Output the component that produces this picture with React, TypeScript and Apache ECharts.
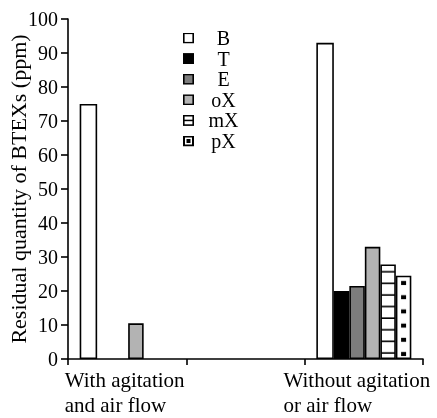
import React, { useEffect, useRef } from 'react';
import * as echarts from 'echarts';

const categories = ['With agitation\nand air flow', '', 'Without agitation\nor air flow'];
const seriesNames = ['B', 'T', 'E', 'oX', 'mX', 'pX'];
const valuesB = [75, null, 93];
const valuesT = [null, null, 20];
const valuesE = [null, null, 21.5];
const valuesOX = [10.5, null, 33];
const valuesMX = [null, null, 27.8];
const valuesPX = [null, null, 24.5];
const yMin = 0;
const yMax = 100;
const yInterval = 10;

const FONT = "Liberation Serif";
const barWidths = [17.5, 15.5, 15.5, 15.5, 15.5, 15.5];

const svgUrl = (w: number, h: number, body: string) =>
  'data:image/svg+xml;utf8,' +
  encodeURIComponent(
    `<svg xmlns="http://www.w3.org/2000/svg" width="${w}" height="${h}" viewBox="0 0 ${w} ${h}">${body}</svg>`
  );

const iconBox = (fill: string) =>
  `<rect x="0.8" y="0.8" width="9.4" height="9.4" fill="${fill}" stroke="#000" stroke-width="1.6"/>`;

const legendIcons: Record<string, string> = {
  B: svgUrl(11, 11, iconBox('#ffffff')),
  T: svgUrl(11, 11, iconBox('#000000')),
  E: svgUrl(11, 11, iconBox('#7d7d7d')),
  oX: svgUrl(11, 11, iconBox('#b3b3b3')),
  mX: svgUrl(11, 11, iconBox('#ffffff') + '<rect x="0" y="4.8" width="11" height="1.5" fill="#000"/>'),
  pX: svgUrl(
    11,
    11,
    `<rect x="1" y="1" width="9" height="9" fill="#fff" stroke="#000" stroke-width="2"/><rect x="3.5" y="3.5" width="4" height="4" fill="#000"/>`
  ),
};

const mod = (a: number, m: number) => ((a % m) + m) % m;

export default function App() {
  const ref = useRef<HTMLDivElement>(null);
  useEffect(() => {
    if (!ref.current) return;
    const chart = echarts.init(ref.current, null, { renderer: 'svg' });
    const border = { borderColor: '#000', borderWidth: 1.6 };
    const dataSets = [valuesB, valuesT, valuesE, valuesOX, valuesMX, valuesPX];
    const fills = ['#ffffff', '#000000', '#7d7d7d', '#b3b3b3', '#ffffff', '#ffffff'];
    const makeSeries = (mxColor: any, pxColor: any) =>
      seriesNames.map((name, i) => ({
        name,
        type: 'bar',
        data: dataSets[i],
        barWidth: barWidths[i],
        barGap: '0%',
        itemStyle: {
          ...border,
          color: i === 4 ? mxColor : i === 5 ? pxColor : fills[i],
        },
      }));

    chart.setOption({
      animation: false,
      textStyle: { fontFamily: FONT, color: '#000' },
      grid: { left: 68, right: 14, top: 19, bottom: 59, containLabel: false, outerBoundsMode: 'none' },
      legend: {
        orient: 'vertical',
        left: 183,
        top: 28,
        padding: 0,
        itemGap: 0.6,
        itemWidth: 11,
        itemHeight: 11,
        selectedMode: false,
        data: seriesNames.map((n) => ({ name: n, icon: 'image://' + legendIcons[n] })),
        formatter: (n: string) => `{n|${n}}`,
        textStyle: {
          fontFamily: FONT,
          rich: {
            n: { width: 49, align: 'center', fontSize: 20, lineHeight: 20.6, fontFamily: FONT, color: '#000' },
          },
        },
      },
      xAxis: {
        type: 'category',
        data: categories,
        boundaryGap: true,
        axisLine: { lineStyle: { color: '#000', width: 1.6 } },
        axisTick: { show: true, length: 6, alignWithLabel: false, lineStyle: { color: '#000', width: 1.6 } },
        axisLabel: {
          interval: 0,
          margin: 8,
          fontFamily: FONT,
          formatter: (v: string, idx: number) => {
            if (!v) return '';
            const s = idx === 0 ? 'a' : 'b';
            return v.split('\n').map((l) => `{${s}|${l}}`).join('\n');
          },
          rich: {
            a: { align: 'left', fontSize: 21, lineHeight: 25, fontFamily: FONT, color: '#000', padding: [0, 5, 0, 0] },
            b: { align: 'left', fontSize: 21, lineHeight: 25, fontFamily: FONT, color: '#000', padding: [0, 14, 0, 0] },
          },
        },
      },
      yAxis: {
        type: 'value',
        min: yMin,
        max: yMax,
        interval: yInterval,
        name: 'Residual quantity of BTEXs (ppm)',
        nameLocation: 'middle',
        nameRotate: 90,
        nameGap: 39,
        nameMoveOverlap: false,
        nameTextStyle: { fontSize: 22, fontFamily: FONT, color: '#000' },
        axisLine: { show: true, lineStyle: { color: '#000', width: 1.6 } },
        axisTick: { show: true, length: 7, lineStyle: { color: '#000', width: 1.6 } },
        splitLine: { show: false },
        axisLabel: { fontSize: 20, margin: 10, fontFamily: FONT, color: '#000' },
      },
      series: makeSeries('#fff', '#fff'),
    });

    // align hatch/dot tiles to the bars (pattern tiles are anchored at the page origin)
    const y0 = chart.convertToPixel({ yAxisIndex: 0 }, 0) as number;
    const xc = chart.convertToPixel({ xAxisIndex: 0 }, 2) as number;
    const total = barWidths.reduce((a, b) => a + b, 0);
    const pxLeft = xc - total / 2 + barWidths.slice(0, 5).reduce((a, b) => a + b, 0);
    const pxCenter = pxLeft + barWidths[5] / 2;
    const sH = 11.6;
    const lineTop = mod(y0 - 6 - 0.8, sH);
    const stripeTile = svgUrl(
      16,
      sH,
      `<rect width="16" height="${sH}" fill="#fff"/><rect x="0" y="${lineTop}" width="16" height="1.6" fill="#000"/><rect x="0" y="${lineTop - sH}" width="16" height="1.6" fill="#000"/>`
    );
    const dW = 16, dH = 14.2;
    const dotX = mod(pxCenter - 2.5, dW);
    const dotY = mod(y0 - 7, dH);
    const dotTile = svgUrl(
      dW,
      dH,
      `<rect width="${dW}" height="${dH}" fill="#fff"/>` +
        [0, -dW].map((ox) => [0, -dH].map((oy) => `<rect x="${dotX + ox}" y="${dotY + oy}" width="5" height="4" fill="#000"/>`).join('')).join('')
    );
    const mxPattern = { image: stripeTile, repeat: 'repeat', imageWidth: 16, imageHeight: sH };
    const pxPattern = { image: dotTile, repeat: 'repeat', imageWidth: dW, imageHeight: dH };
    chart.setOption({ series: makeSeries(mxPattern, pxPattern) });

    return () => chart.dispose();
  }, []);
  return <div ref={ref} style={{ position: 'fixed', left: 0, top: 0, width: 437, height: 418 }} />;
}
